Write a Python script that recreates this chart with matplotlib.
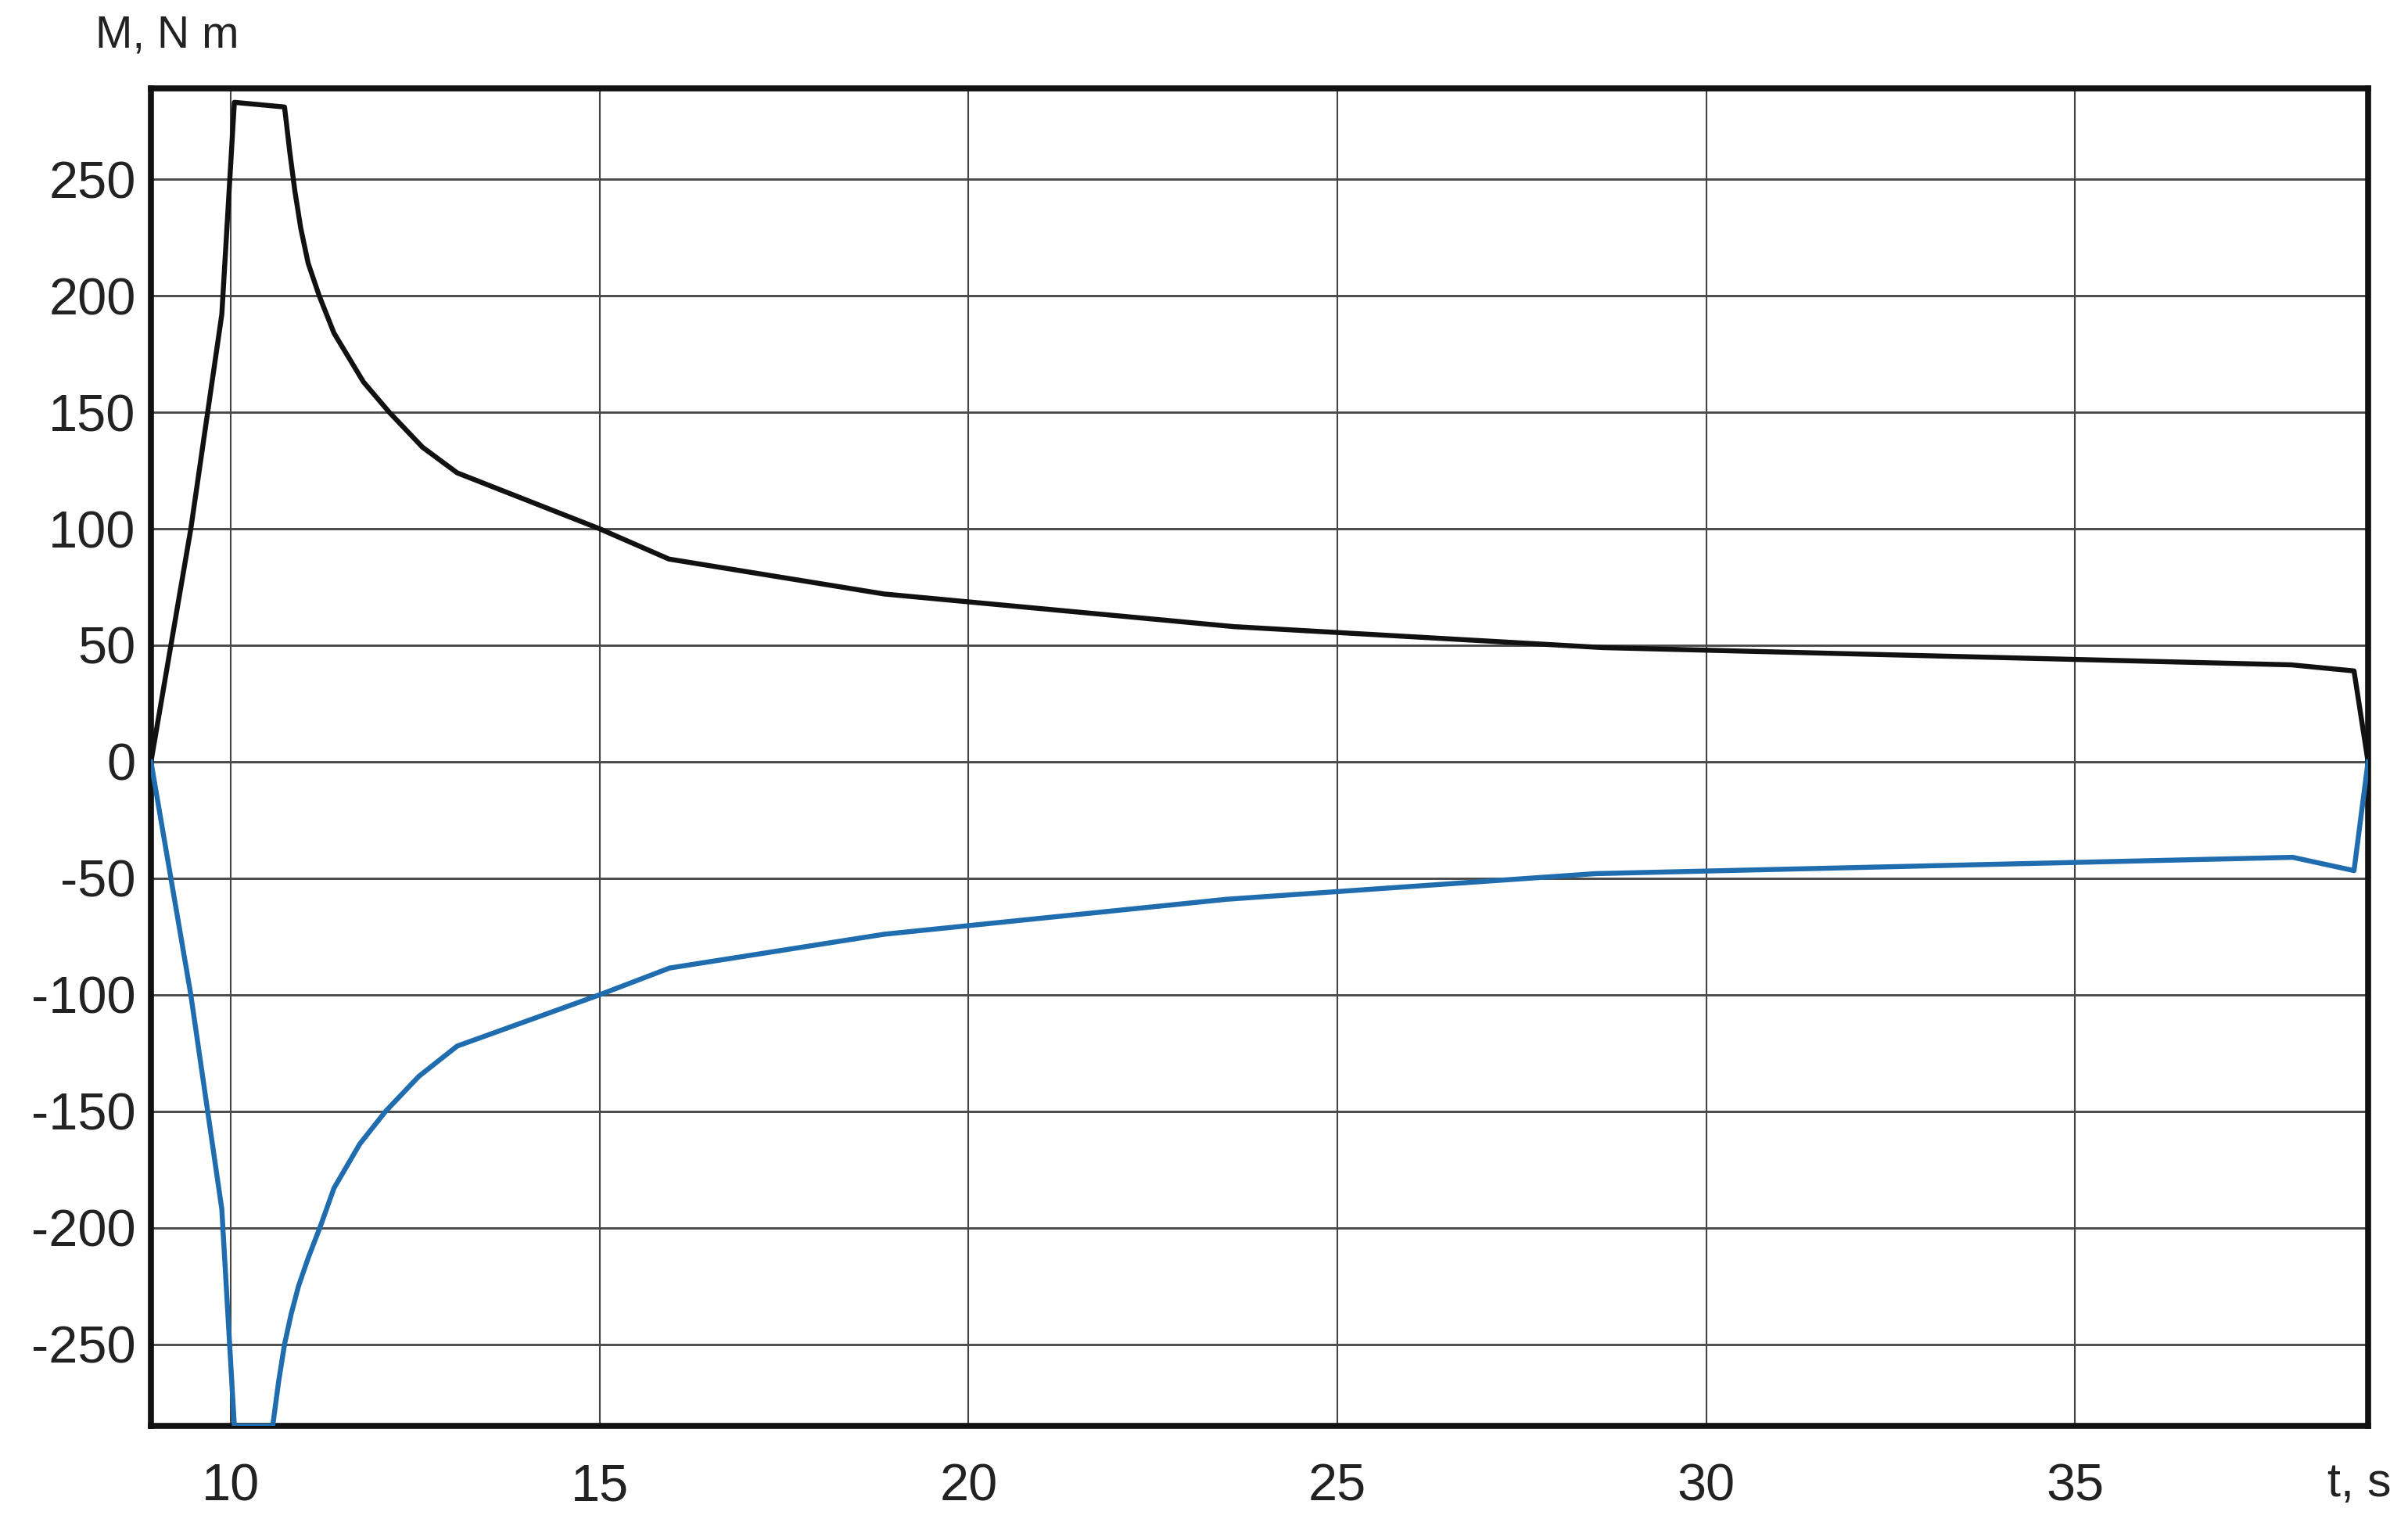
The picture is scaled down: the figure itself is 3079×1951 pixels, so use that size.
import matplotlib
matplotlib.use("Agg")
import matplotlib.pyplot as plt

plt.rcParams['font.family'] = ['Liberation Sans', 'DejaVu Sans']
plt.rcParams['axes.unicode_minus'] = False

# Data
t_black = [8.92, 9.46, 9.88, 10.05, 10.73, 10.8, 10.87, 10.95, 11.05, 11.2, 11.4, 11.8, 12.15,
           12.6, 13.07, 15.0, 15.94, 18.86, 23.6, 28.6, 37.93, 38.78, 38.97]
M_black = [0, 100, 192, 283, 281, 262, 245, 229, 214, 200, 184, 163, 150,
           135, 124, 100, 87, 72, 58, 49, 41.6, 39, 0]

t_blue = [8.92, 9.46, 9.88, 10.05, 10.57, 10.65, 10.73, 10.82, 10.92, 11.05, 11.22, 11.4, 11.75, 12.1,
          12.55, 13.07, 15.0, 15.95, 18.86, 23.5, 28.5, 37.95, 38.78, 38.97]
M_blue = [0, -100, -192, -285, -285, -266, -250, -237, -225, -213, -199, -183, -164, -150,
          -135, -122, -100, -88.5, -74, -59, -48, -41, -46.7, 0]

x_ticks = [10, 15, 20, 25, 30, 35]
y_ticks = [-250, -200, -150, -100, -50, 0, 50, 100, 150, 200, 250]
x_limits = (8.92, 38.97)
y_limits = (-285, 289)

fig = plt.figure(figsize=(30.79, 19.51), dpi=100)
ax = fig.add_axes([0.0627, 0.0656, 0.9207, 0.8765])

ax.plot(t_black, M_black, color='#111111', lw=4.6, zorder=3)
ax.plot(t_blue, M_blue, color='#1f6cae', lw=4.6, zorder=3)

ax.set_xlim(*x_limits)
ax.set_ylim(*y_limits)
ax.set_xticks(x_ticks)
ax.set_yticks(y_ticks)
ax.set_xticklabels([str(v) for v in x_ticks])
ax.set_yticklabels([str(v) for v in y_ticks])

ax.xaxis.grid(True, color='#444444', lw=1.5)
ax.yaxis.grid(True, color='#4a4a4a', lw=2.1)
ax.set_axisbelow(True)

for s in ax.spines.values():
    s.set_linewidth(5.5)
    s.set_color('#111111')

ax.tick_params(axis='x', length=0, pad=34, labelsize=48, labelcolor='#222222')
ax.tick_params(axis='y', length=0, pad=14, labelsize=48, labelcolor='#222222')

fig.text(122 / 3079, 1 - 45 / 1951, 'M, N m', ha='left', va='center', fontsize=41, color='#222222')
fig.text(3058 / 3079, 1 - 1897 / 1951, 't, s', ha='right', va='center', fontsize=44, color='#222222')

fig.savefig('out.png', dpi=100, facecolor='white')
